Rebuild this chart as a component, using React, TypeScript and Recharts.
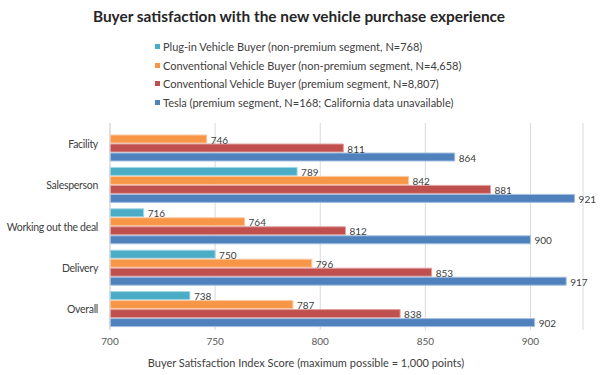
import { BarChart, Bar, XAxis, YAxis, CartesianGrid, LabelList } from 'recharts'

const categories = ['Facility', 'Salesperson', 'Working out the deal', 'Delivery', 'Overall']
const plugIn = [null, 789, 716, 750, 738]
const convNonPremium = [746, 842, 764, 796, 787]
const convPremium = [811, 881, 812, 853, 838]
const tesla = [864, 921, 900, 917, 902]
const xTicks = [700, 750, 800, 850, 900]

const seriesKeys = ['plugIn', 'convNonPremium', 'convPremium', 'tesla']
const seriesNames = [
  'Plug-in Vehicle Buyer (non-premium segment, N=768)',
  'Conventional Vehicle Buyer (non-premium segment, N=4,658)',
  'Conventional Vehicle Buyer (premium segment, N=8,807)',
  'Tesla (premium segment, N=168; California data unavailable)',
]
const colors = ['#4bacc6', '#f79646', '#c0504d', '#4f81bd']
const strokes = ['#9fd6e4', '#fbc9a1', '#df9f9d', '#a6c0df']

const data = categories.map((name, i) => ({
  name,
  plugIn: plugIn[i],
  convNonPremium: convNonPremium[i],
  convPremium: convPremium[i],
  tesla: tesla[i],
}))

const font = 'Lato, "Open Sans", sans-serif'

// category labels on one line, right aligned next to the axis
function CategoryTick(props: any) {
  const { x, y, payload } = props
  return (
    <text x={x - 10} y={y} dy={4} textAnchor="end" fontSize={10.5} letterSpacing={-0.3} fill="#404040" fontFamily={font}>
      {payload.value}
    </text>
  )
}

export default function App() {
  return (
    <div style={{ position: 'absolute', left: 0, top: 0, width: 600, height: 375, background: '#fff', fontFamily: font }}>
      <div style={{ position: 'absolute', top: 7, left: 0, width: 598, textAlign: 'center', fontSize: 15.4, fontWeight: 700, color: '#262626' }}>
        Buyer satisfaction with the new vehicle purchase experience
      </div>
      <div style={{ position: 'absolute', top: 37, left: 155 }}>
        {seriesNames.map((n, i) => (
          <div key={n} style={{ display: 'flex', alignItems: 'center', height: 18.8, fontSize: 11, color: '#404040', whiteSpace: 'nowrap' }}>
            <span style={{ display: 'inline-block', width: 5, height: 5, background: colors[i], marginRight: 3 }} />
            {n}
          </div>
        ))}
      </div>
      <BarChart
        width={600}
        height={375}
        data={data}
        layout="vertical"
        margin={{ top: 123, right: 17, left: 0, bottom: 17 }}
        barSize={8}
        barGap={1}
        style={{ position: 'absolute', left: 0, top: 0 }}
      >
        <CartesianGrid horizontal={false} stroke="#d9d9d9" />
        <XAxis
          type="number"
          domain={[700, 925]}
          ticks={xTicks}
          height={28}
          tickLine={false}
          axisLine={false}
          tickMargin={2}
          tick={{ fontSize: 10, fill: '#595959', fontFamily: font }}
        />
        <YAxis
          type="category"
          dataKey="name"
          width={110}
          tickLine={false}
          axisLine={{ stroke: '#d9d9d9' }}
          tickSize={0}
          tick={<CategoryTick />}
        />
        {seriesKeys.map((k, i) => (
          <Bar key={k} dataKey={k} name={seriesNames[i]} fill={colors[i]} stroke={strokes[i]} strokeWidth={1} isAnimationActive={false}>
            <LabelList dataKey={k} position="right" offset={4} dy={1} style={{ fontSize: 10, fill: '#404040', fontFamily: font }} />
          </Bar>
        ))}
      </BarChart>
      <div style={{ position: 'absolute', top: 356, left: 0, width: 612, textAlign: 'center', fontSize: 11, color: '#404040' }}>
        Buyer Satisfaction Index Score (maximum possible = 1,000 points)
      </div>
    </div>
  )
}
